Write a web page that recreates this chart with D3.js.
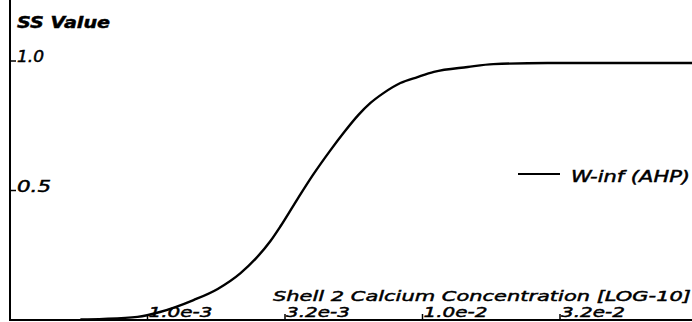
<!DOCTYPE html>
<html>
<head>
<meta charset="utf-8">
<script src="https://cdn.jsdelivr.net/npm/d3@7"></script>
<style>
  html, body { margin: 0; padding: 0; background: #fff; }
  svg { display: block; }
  text { font-family: "DejaVu Sans", sans-serif; font-style: italic; fill: #000; stroke: #000; stroke-width: 0.45px; }
</style>
</head>
<body>
<svg id="chart" width="692" height="322"></svg>
<script>
// Steady-state activation W-inf (AHP) versus shell 2 calcium concentration
const concentration = [5.7e-4, 6.92e-4, 9.2e-4, 1.11e-3, 1.47e-3, 1.80e-3, 2.18e-3, 2.47e-3, 2.80e-3,
  3.05e-3, 3.51e-3, 4.02e-3, 4.63e-3, 5.16e-3, 5.85e-3, 6.47e-3, 7.21e-3, 8.31e-3, 9.59e-3,
  1.10e-2, 1.46e-2, 1.81e-2, 2.85e-2, 5.25e-2, 9.6e-2];
const ssValue = [0.002, 0.004, 0.012, 0.031, 0.077, 0.120, 0.181, 0.236, 0.305,
  0.363, 0.467, 0.564, 0.656, 0.722, 0.792, 0.838, 0.876, 0.915, 0.938,
  0.958, 0.977, 0.988, 0.992, 0.992, 0.992];

const xTickValues = [1e-3, Math.pow(10, -2.5), 1e-2, Math.pow(10, -1.5)];
const xTickLabels = ["1.0e-3", "3.2e-3", "1.0e-2", "3.2e-2"];
const yTickValues = [0.5, 1.0];
const yTickLabels = ["0.5", "1.0"];

const seriesName = "W-inf (AHP)";
const yTitle = "SS Value";
const xTitle = "Shell 2 Calcium Concentration [LOG-10]";

const svg = d3.select("#chart");

const x = d3.scaleLog().domain([Math.pow(10, -3.5), 1e-1]).range([10, 697.5]);
const y = d3.scaleLinear().domain([0, 1]).range([320, 61]);

// axes frame
svg.append("line").attr("x1", 10).attr("x2", 10).attr("y1", 0).attr("y2", 321)
  .attr("stroke", "#000").attr("stroke-width", 2);
svg.append("line").attr("x1", 9).attr("x2", 692).attr("y1", 320).attr("y2", 320)
  .attr("stroke", "#000").attr("stroke-width", 2);

// y ticks: a short foot with the label sitting on it
const yt = svg.append("g").selectAll("g").data(yTickValues).join("g")
  .attr("transform", d => `translate(10,${y(d)})`);
yt.append("line").attr("x1", 0).attr("x2", 6).attr("stroke", "#000").attr("stroke-width", 1.5);
yt.append("text").attr("x", 7).attr("y", 1)
  .attr("font-size", 15).attr("textLength", (d, i) => yTickLabels[i] === "1.0" ? 27 : 34)
  .attr("lengthAdjust", "spacingAndGlyphs")
  .text((d, i) => yTickLabels[i]);

// x ticks: short upright marks, labels starting at the mark
const xt = svg.append("g").selectAll("g").data(xTickValues).join("g")
  .attr("transform", d => `translate(${x(d)},320)`);
xt.append("line").attr("y1", 0).attr("y2", -6).attr("stroke", "#000").attr("stroke-width", 1.5);
xt.append("text").attr("x", 1).attr("y", -3)
  .attr("font-size", 14).attr("textLength", 64).attr("lengthAdjust", "spacingAndGlyphs")
  .text((d, i) => xTickLabels[i]);

// titles
svg.append("text").attr("x", 17).attr("y", 28).attr("font-size", 15).attr("font-weight", "bold")
  .attr("textLength", 93).attr("lengthAdjust", "spacingAndGlyphs").text(yTitle);
svg.append("text").attr("x", 273).attr("y", 301).attr("font-size", 14)
  .attr("textLength", 418).attr("lengthAdjust", "spacingAndGlyphs").text(xTitle);

// curve
const line = d3.line()
  .x((d, i) => x(concentration[i]))
  .y(d => y(d))
  .curve(d3.curveMonotoneX);
svg.append("path").datum(ssValue)
  .attr("d", line).attr("fill", "none").attr("stroke", "#000").attr("stroke-width", 2.4);

// legend
svg.append("line").attr("x1", 518).attr("x2", 560).attr("y1", 174).attr("y2", 174)
  .attr("stroke", "#000").attr("stroke-width", 2);
svg.append("text").attr("x", 571).attr("y", 182).attr("font-size", 15)
  .attr("textLength", 119).attr("lengthAdjust", "spacingAndGlyphs").text(seriesName);
</script>
</body>
</html>
